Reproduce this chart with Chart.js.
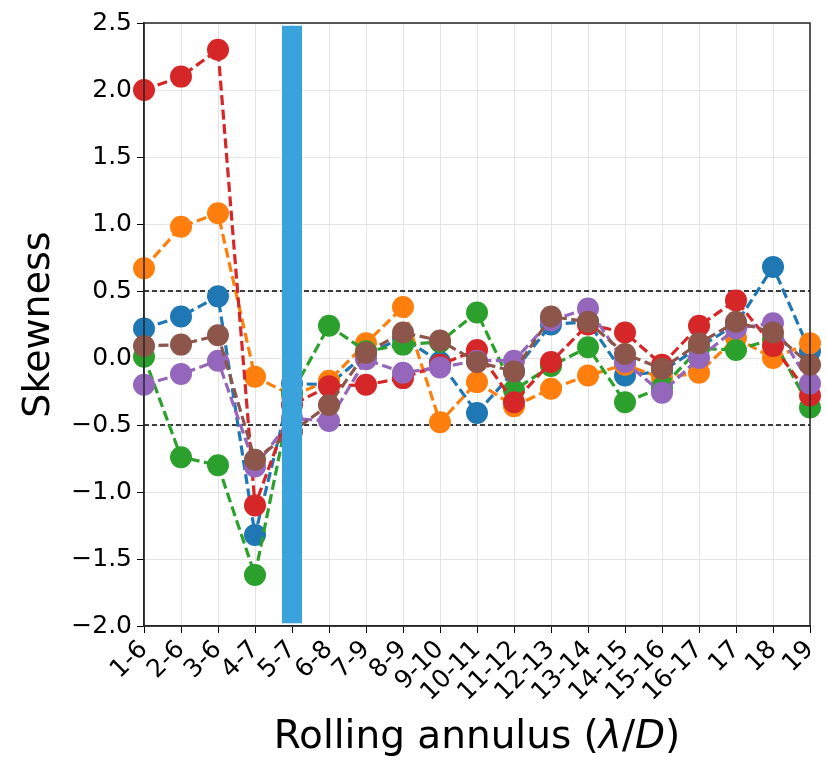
<!DOCTYPE html>
<html>
<head>
<meta charset="utf-8">
<script src="https://cdn.jsdelivr.net/npm/chart.js@4/dist/chart.umd.min.js"></script>
<style>
  html, body { margin: 0; padding: 0; background: #fff; }
  #wrap { width: 827px; height: 760px; position: relative; }
</style>
</head>
<body>
<div id="wrap"><canvas id="chart"></canvas></div>
<script>
// --- data ---
const annuli = ['1-6', '2-6', '3-6', '4-7', '5-7', '6-8', '7-9', '8-9', '9-10', '10-11',
  '11-12', '12-13', '13-14', '14-15', '15-16', '16-17', '17', '18', '19'];

const blueSkew   = [0.22, 0.31, 0.46, -1.32, -0.19, -0.20, 0.03, 0.15, -0.03, -0.41, -0.10, 0.25, 0.27, -0.13, -0.10, 0.08, 0.25, 0.68, 0.05];
const orangeSkew = [0.67, 0.98, 1.08, -0.14, -0.28, -0.17, 0.11, 0.38, -0.48, -0.18, -0.36, -0.23, -0.13, -0.05, -0.15, -0.11, 0.15, 0.00, 0.11];
const greenSkew  = [0.01, -0.74, -0.80, -1.62, -0.26, 0.24, 0.05, 0.10, 0.12, 0.34, -0.24, -0.06, 0.08, -0.33, -0.22, 0.07, 0.06, 0.14, -0.37];
const redSkew    = [2.00, 2.10, 2.30, -1.10, -0.35, -0.21, -0.20, -0.15, -0.05, 0.06, -0.33, -0.03, 0.25, 0.19, -0.05, 0.24, 0.43, 0.09, -0.28];
const purpleSkew = [-0.20, -0.12, -0.02, -0.81, -0.45, -0.47, -0.01, -0.11, -0.07, -0.02, -0.02, 0.28, 0.37, -0.03, -0.26, 0.00, 0.22, 0.26, -0.19];
const brownSkew  = [0.09, 0.10, 0.17, -0.76, -0.55, -0.35, 0.04, 0.19, 0.13, -0.03, -0.10, 0.31, 0.27, 0.03, -0.08, 0.11, 0.27, 0.19, -0.05];

const thresholds = [0.5, -0.5];
const bandAnnulus = '5-7';
const bandRange = [-1.98, 2.48];

const yMin = -2.0, yMax = 2.5, yStep = 0.5;

// --- styling ---
const FONT = "'DejaVu Sans', sans-serif";
const palette = ['#1f77b4', '#ff7f0e', '#2ca02c', '#d62728', '#9467bd', '#8c564b'];
const seriesList = [blueSkew, orangeSkew, greenSkew, redSkew, purpleSkew, brownSkew];

function seriesDataset(values, color, i) {
  return {
    data: values,
    borderColor: color,
    backgroundColor: color,
    borderWidth: 3.2,
    borderDash: [10, 4.5],
    pointRadius: 11,
    pointHoverRadius: 11,
    pointBorderWidth: 0,
    pointBackgroundColor: color,
    tension: 0,
    order: 7 - i   // blue drawn first, brown last (on top)
  };
}

const datasets = seriesList.map((vals, i) => seriesDataset(vals, palette[i], i));

// dashed threshold lines
thresholds.forEach(t => {
  datasets.push({
    data: [{ x: annuli[0], y: t }, { x: annuli[annuli.length - 1], y: t }],
    borderColor: '#000',
    borderWidth: 1.5,
    borderDash: [5, 3],
    pointRadius: 0,
    order: 20
  });
});

// the light-blue vertical band
datasets.push({
  data: [{ x: bandAnnulus, y: bandRange[0] }, { x: bandAnnulus, y: bandRange[1] }],
  borderColor: '#3aa3dc',
  borderWidth: 20,
  borderCapStyle: 'butt',
  pointRadius: 0,
  order: 0
});

// frame + x title with italic parts
const framePlugin = {
  id: 'frame',
  afterDraw(chart) {
    const { ctx, chartArea: a } = chart;
    ctx.save();
    ctx.strokeStyle = '#262626';
    ctx.lineWidth = 1.5;
    ctx.strokeRect(a.left, a.top, a.right - a.left, a.bottom - a.top);

    // x axis title: Rolling annulus (λ/D)
    const parts = [
      { t: 'Rolling annulus (', it: false },
      { t: 'λ', it: true },
      { t: '/', it: false },
      { t: 'D', it: true },
      { t: ')', it: false }
    ];
    const size = 39;
    let total = 0;
    parts.forEach(p => {
      ctx.font = (p.it ? 'italic ' : '') + size + 'px ' + FONT;
      p.w = ctx.measureText(p.t).width;
      total += p.w;
    });
    let x = (a.left + a.right) / 2 - total / 2;
    ctx.fillStyle = '#000';
    ctx.textBaseline = 'alphabetic';
    ctx.textAlign = 'left';
    parts.forEach(p => {
      ctx.font = (p.it ? 'italic ' : '') + size + 'px ' + FONT;
      ctx.fillText(p.t, x, 748);
      x += p.w;
    });
    ctx.restore();
  }
};

new Chart(document.getElementById('chart').getContext('2d'), {
  type: 'line',
  data: { labels: annuli, datasets },
  options: {
    responsive: true,
    maintainAspectRatio: false,
    animation: false,
    layout: { padding: { left: 0, top: 23, right: 17, bottom: 0 } },
    plugins: {
      legend: { display: false },
      tooltip: { enabled: false }
    },
    scales: {
      x: {
        type: 'category',
        offset: false,
        afterFit: s => { s.height = 134; s.paddingRight = 0; s.paddingLeft = 0; },
        grid: { color: '#e4e4e4', lineWidth: 1, tickColor: '#000', tickLength: 7, drawTicks: true },
        border: { display: true, color: '#262626', width: 1.5 },
        ticks: {
          autoSkip: false,
          minRotation: 45,
          maxRotation: 45,
          padding: 2,
          color: '#000',
          font: { family: FONT, size: 25 }
        }
      },
      y: {
        min: yMin,
        max: yMax,
        afterFit: s => { s.width = 144; },
        grid: { color: '#e4e4e4', lineWidth: 1, tickColor: '#000', tickLength: 7 },
        border: { display: true, color: '#262626', width: 1.5 },
        ticks: {
          stepSize: yStep,
          padding: 5,
          color: '#000',
          font: { family: FONT, size: 25 },
          callback: v => v.toFixed(1).replace('-', '\u2212')
        },
        title: {
          display: true,
          text: 'Skewness',
          color: '#000',
          font: { family: FONT, size: 38 },
          padding: { top: 16, bottom: 0 }
        }
      }
    }
  },
  plugins: [framePlugin]
});
</script>
</body>
</html>
